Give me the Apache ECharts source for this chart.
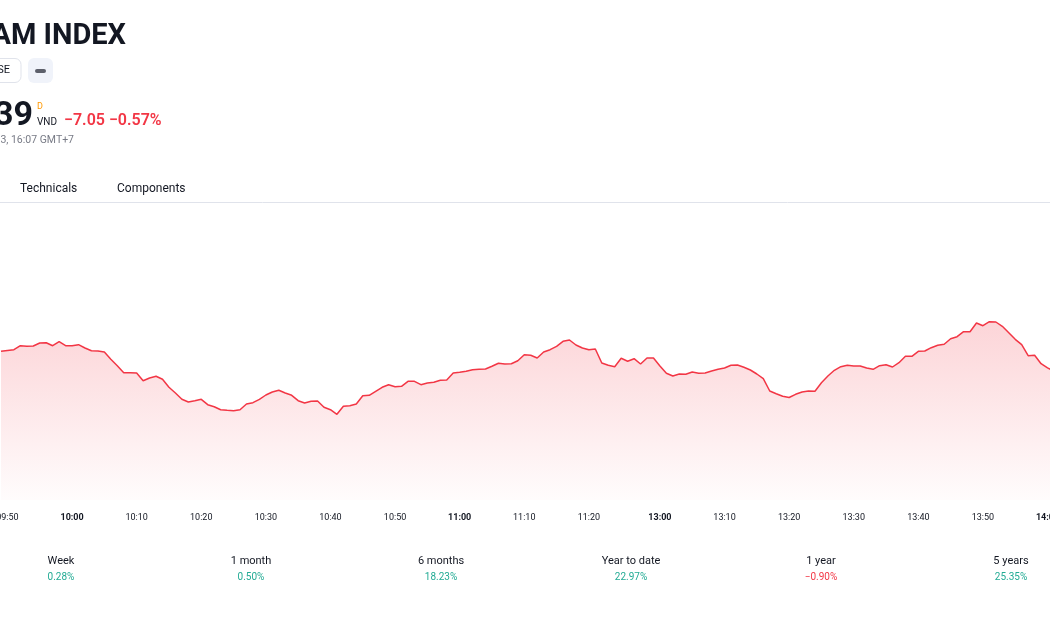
<!DOCTYPE html>
<html>
<head>
<meta charset="utf-8">
<title>VN-Index intraday</title>
<script src="https://cdn.jsdelivr.net/npm/echarts@6/dist/echarts.min.js"></script>
<style>
    html, body { margin: 0; padding: 0; background: #fff; }
    #chart { width: 1050px; height: 630px; }
</style>
</head>
<body>
<div id="chart"></div>
<script>
(function () {
    'use strict';

    // trading sessions, one point per minute
    var sessions = [['09:49', '11:30'], ['13:00', '14:01']];

    var prices = [
        1240.87, 1240.95, 1241.03, 1241.43, 1241.37, 1241.40, 1241.70, 1241.73, 1241.43, 1241.83,
        1241.43, 1241.43, 1241.53, 1241.20, 1240.93, 1240.90, 1240.80, 1240.07, 1239.43, 1238.73,
        1238.73, 1238.70, 1237.93, 1238.20, 1238.37, 1238.07, 1237.27, 1236.70, 1236.07, 1235.80,
        1235.93, 1236.07, 1235.53, 1235.33, 1235.03, 1234.97, 1234.93, 1235.03, 1235.60, 1235.73,
        1236.07, 1236.50, 1236.80, 1236.97, 1236.70, 1236.47, 1235.93, 1235.70, 1235.87, 1235.90,
        1235.27, 1235.03, 1234.57, 1235.37, 1235.43, 1235.60, 1236.43, 1236.47, 1236.87, 1237.27,
        1237.53, 1237.33, 1237.37, 1237.87, 1237.87, 1237.53, 1237.70, 1237.77, 1237.97, 1238.00,
        1238.70, 1238.77, 1238.87, 1239.03, 1239.07, 1239.10, 1239.37, 1239.67, 1239.60, 1239.63,
        1239.93, 1240.53, 1240.47, 1240.20, 1240.80, 1241.03, 1241.37, 1241.87, 1242.00, 1241.50,
        1241.20, 1241.03, 1241.10, 1239.70, 1239.47, 1239.33, 1240.17, 1239.87, 1240.13, 1239.60,
        1240.20, 1240.20, 1239.40, 1238.67, 1238.40, 1238.60, 1238.57, 1238.80, 1238.67, 1238.70,
        1238.90, 1239.07, 1239.20, 1239.47, 1239.50, 1239.27, 1239.00, 1238.60, 1238.13, 1236.90,
        1236.63, 1236.37, 1236.25, 1236.57, 1236.80, 1236.90, 1236.87, 1237.73, 1238.40, 1238.97,
        1239.33, 1239.47, 1239.40, 1239.40, 1239.20, 1239.07, 1239.43, 1239.53, 1239.30, 1239.73,
        1240.37, 1240.37, 1240.87, 1240.90, 1241.23, 1241.47, 1241.57, 1242.13, 1242.33, 1242.83,
        1242.83, 1243.70, 1243.43, 1243.83, 1243.80, 1243.37, 1242.73, 1242.07, 1241.53, 1240.43,
        1240.47, 1239.63, 1239.22, 1238.85
    ];

    var periodNames = ['Week', '1 month', '6 months', 'Year to date', '1 year', '5 years'];
    var periodChanges = ['0.28%', '0.50%', '18.23%', '22.97%', '\u22120.90%', '25.35%'];

    var FONT = 'Roboto, "Open Sans", sans-serif';
    var RED = '#f23645';
    var GREEN = '#22ab94';
    var TEXT = '#131722';

    function toMin(s) {
        var p = s.split(':');
        return +p[0] * 60 + +p[1];
    }
    function pad(n) {
        return (n < 10 ? '0' : '') + n;
    }

    var times = [];
    for (var s = 0; s < sessions.length; s++) {
        for (var m = toMin(sessions[s][0]); m <= toMin(sessions[s][1]); m++) {
            times.push(pad(Math.floor(m / 60)) + ':' + pad(m % 60));
        }
    }
    var sessionEnds = sessions.map(function (ss) { return ss[1]; });

    var graphics = [
        // header
        { type: 'text', x: 126, y: 51, style: { text: 'VIETNAM INDEX', fill: TEXT, font: 'bold 29px ' + FONT, align: 'right', verticalAlign: 'bottom' } },
        { type: 'rect', shape: { x: -40, y: 58.5, width: 61, height: 24, r: 6 }, style: { fill: '#fff', stroke: '#e0e3eb', lineWidth: 1 } },
        { type: 'text', x: 10, y: 70.5, style: { text: 'HOSE', fill: TEXT, font: '11px ' + FONT, align: 'right', verticalAlign: 'middle' } },
        { type: 'rect', shape: { x: 28, y: 58, width: 25, height: 25, r: 6 }, style: { fill: '#f0f3fa' } },
        { type: 'rect', shape: { x: 35, y: 69, width: 11, height: 4, r: 2 }, style: { fill: '#5d606b' } },
        { type: 'text', x: 33, y: 133, style: { text: '1,238.39', fill: TEXT, font: 'bold 34px ' + FONT, align: 'right', verticalAlign: 'bottom' } },
        { type: 'text', x: 37, y: 107, style: { text: 'D', fill: '#ff9800', font: '9px ' + FONT, align: 'left', verticalAlign: 'middle' } },
        { type: 'text', x: 37, y: 122, style: { text: 'VND', fill: TEXT, font: '10px ' + FONT, align: 'left', verticalAlign: 'middle' } },
        { type: 'text', x: 64, y: 120.5, style: { text: '\u22127.05 \u22120.57%', fill: RED, font: '600 16px ' + FONT, align: 'left', verticalAlign: 'middle' } },
        { type: 'text', x: 74, y: 140, style: { text: 'At close at Sep 13, 16:07 GMT+7', fill: '#787b86', font: '10.5px ' + FONT, align: 'right', verticalAlign: 'middle' } },
        // tabs
        { type: 'text', x: 20, y: 188.5, style: { text: 'Technicals', fill: TEXT, font: '12px ' + FONT, align: 'left', verticalAlign: 'middle' } },
        { type: 'text', x: 117, y: 188.5, style: { text: 'Components', fill: TEXT, font: '12px ' + FONT, align: 'left', verticalAlign: 'middle' } },
        { type: 'line', shape: { x1: 0, y1: 202.5, x2: 1050, y2: 202.5 }, style: { stroke: '#e0e3eb', lineWidth: 1 } }
    ];

    for (var i = 0; i < periodNames.length; i++) {
        var cx = 61 + i * 190;
        graphics.push({ type: 'text', x: cx, y: 561, style: { text: periodNames[i], fill: TEXT, font: '11px ' + FONT, align: 'center', verticalAlign: 'middle' } });
        graphics.push({ type: 'text', x: cx, y: 577, style: { text: periodChanges[i], fill: periodChanges[i].charAt(0) === '\u2212' ? RED : GREEN, font: '10px ' + FONT, align: 'center', verticalAlign: 'middle' } });
    }

    var chart = echarts.init(document.getElementById('chart'));

    chart.setOption({
        animation: false,
        backgroundColor: '#fff',
        grid: { left: 1, right: -4, top: 200, height: 300, containLabel: false, outerBoundsMode: 'none' },
        xAxis: {
            type: 'category',
            data: times,
            boundaryGap: false,
            axisLine: { show: false },
            axisTick: { show: false },
            splitLine: { show: false },
            axisLabel: {
                interval: function (idx, val) {
                    return +val.slice(3) % 10 === 0 && (sessionEnds.indexOf(val) < 0 || idx === times.length - 1);
                },
                hideOverlap: false,
                margin: 13,
                color: TEXT,
                fontSize: 9,
                fontFamily: FONT,
                formatter: function (val) {
                    return val.slice(3) === '00' ? '{b|' + val + '}' : val;
                },
                rich: {
                    b: { fontWeight: 'bold', fontSize: 9, fontFamily: FONT, color: TEXT }
                }
            }
        },
        yAxis: {
            type: 'value',
            show: false,
            min: 1226,
            max: 1256
        },
        series: [{
            type: 'line',
            data: prices,
            symbol: 'none',
            lineStyle: { color: RED, width: 1.5 },
            areaStyle: {
                color: new echarts.graphic.LinearGradient(0, 0, 0, 1, [
                    { offset: 0, color: 'rgba(242, 54, 69, 0.3)' },
                    { offset: 1, color: 'rgba(242, 54, 69, 0.02)' }
                ])
            }
        }],
        graphic: graphics
    });
}());
</script>
</body>
</html>
